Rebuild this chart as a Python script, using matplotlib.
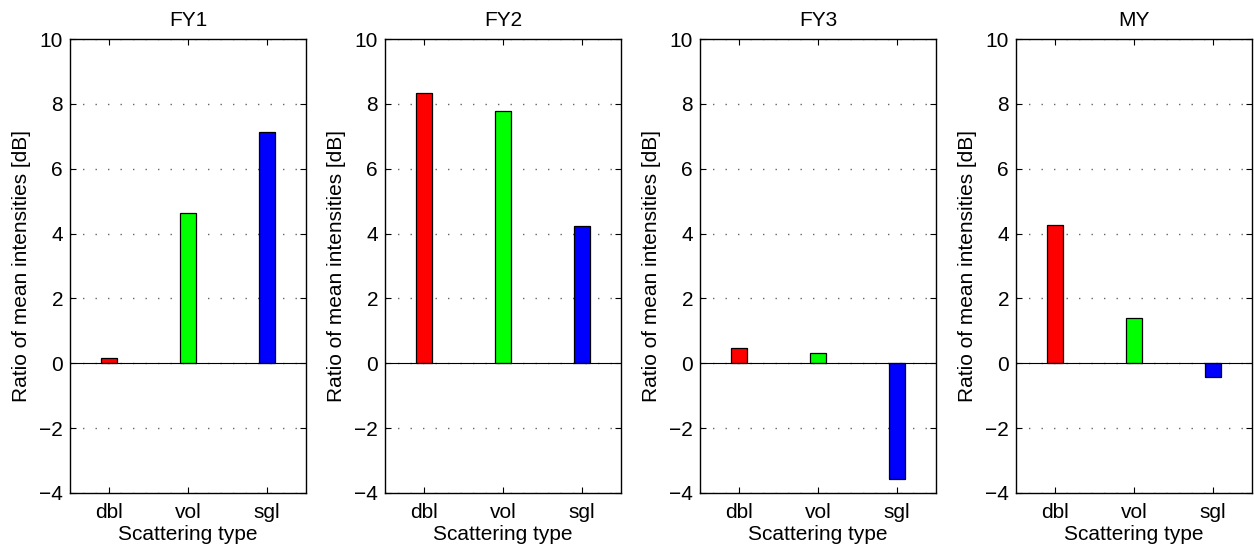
import matplotlib
matplotlib.use("Agg")
import matplotlib.pyplot as plt

plt.rcParams['font.family'] = ['Liberation Sans', 'DejaVu Sans']

titles = ["FY1", "FY2", "FY3", "MY"]
categories = ["dbl", "vol", "sgl"]
bar_colors = ["#ff0000", "#00ff00", "#0000ff"]
fy1 = [0.17, 4.63, 7.13]
fy2 = [8.34, 7.79, 4.22]
fy3 = [0.46, 0.32, -3.58]
my = [4.26, 1.40, -0.42]
series = [fy1, fy2, fy3, my]
yticks = [-4, -2, 0, 2, 4, 6, 8, 10]

W, H = 1254, 551
fig = plt.figure(figsize=(W / 100, H / 100), dpi=100)
lefts = [70, 385, 700, 1016]
aw, top_px, bot_px = 236, 39, 493
xs = [1, 2, 3]
fs = 15
for i, (t, vals) in enumerate(zip(titles, series)):
    ax = fig.add_axes([lefts[i] / W, (H - bot_px) / H, aw / W, (bot_px - top_px) / H])
    ax.bar(xs, vals, width=0.2, color=bar_colors, edgecolor="black", linewidth=0.9, zorder=3)
    ax.axhline(0, color="black", linewidth=0.8, zorder=4)
    ax.set_xlim(0.5, 3.5)
    ax.set_ylim(-4, 10)
    ax.set_xticks(xs)
    ax.set_xticklabels(categories)
    ax.set_yticks(yticks)
    ax.set_yticklabels([str(v).replace("-", "\u2212") for v in yticks])
    ax.yaxis.grid(True, linestyle=(0, (1, 8)), color="#666666", linewidth=1.0)
    ax.set_axisbelow(True)
    ax.tick_params(direction="in", top=True, right=True, length=4, width=0.8, labelsize=fs)
    ax.tick_params(axis="x", pad=7)
    ax.tick_params(axis="y", pad=5)
    for s in ax.spines.values():
        s.set_linewidth(1.0)
    ax.set_title(t, fontsize=fs, pad=9)
    ax.set_xlabel("Scattering type", fontsize=fs, labelpad=2)
    ax.set_ylabel("Ratio of mean intensities [dB]", fontsize=fs, labelpad=6)

fig.savefig("out.png", dpi=100)
